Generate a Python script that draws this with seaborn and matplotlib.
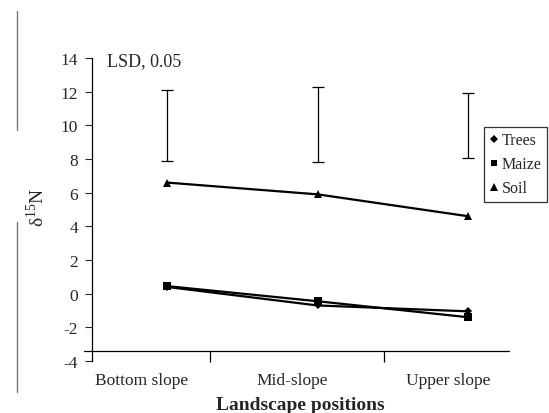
import numpy as np
import pandas as pd
import seaborn as sns
import matplotlib.pyplot as plt
from matplotlib.lines import Line2D

# values
positions = ["Bottom slope", "Mid-slope", "Upper slope"]
trees = [0.40, -0.70, -1.05]
maize = [0.45, -0.45, -1.40]
soil = [6.60, 5.90, 4.60]
lsd_low = [7.9, 7.85, 8.05]
lsd_high = [12.1, 12.25, 11.95]
y_ticks = [-4, -2, 0, 2, 4, 6, 8, 10, 12, 14]

sns.set_theme(style="white")
plt.rcParams['font.family'] = ['Liberation Serif', 'DejaVu Serif']
plt.rcParams['mathtext.fontset'] = 'custom'
plt.rcParams['mathtext.rm'] = 'Liberation Serif'
plt.rcParams['axes.unicode_minus'] = False

df = pd.DataFrame({
    'pos': list(range(3)) * 3,
    'value': trees + maize + soil,
    'Series': ['Trees'] * 3 + ['Maize'] * 3 + ['Soil'] * 3,
})

fig = plt.figure(figsize=(5.49, 4.14), dpi=100)
ax = fig.add_axes([0.1676, 0.1256, 0.7596, 0.7319])

markers = {'Trees': 'D', 'Maize': 's', 'Soil': '^'}
sizes = {'Trees': 4.5, 'Maize': 5.5, 'Soil': 6}
for name in ['Trees', 'Maize', 'Soil']:
    sns.lineplot(data=df[df['Series'] == name], x='pos', y='value', ax=ax,
                 color='black', lw=1.6, marker=markers[name],
                 markersize=sizes[name], markeredgewidth=0, legend=False)

# LSD bars
mid = (np.array(lsd_low) + np.array(lsd_high)) / 2
half = (np.array(lsd_high) - np.array(lsd_low)) / 2
ax.errorbar(range(3), mid, yerr=half, fmt='none', ecolor='black',
            elinewidth=0.9, capsize=4, capthick=0.9)
ax.text(0.036, 0.99, "LSD, 0.05", transform=ax.transAxes, fontsize=13,
        va='center', ha='left')

ax.set_xlim(-0.498, 2.272)
ax.set_ylim(-4, 14)
ax.set_yticks(y_ticks)
ax.tick_params(axis='y', direction='out', length=5, width=0.8, labelsize=12.5,
               left=True, pad=5)
ax.set_xticks([-0.17, 0.83, 1.87])
ax.set_xticklabels(positions, fontsize=12.5)
ax.tick_params(axis='x', length=0, pad=8)

for s in ['top', 'right', 'bottom']:
    ax.spines[s].set_visible(False)
ax.spines['left'].set_linewidth(0.9)
ax.spines['left'].set_color('black')

# horizontal axis line sits a little above the bottom of the y range
ax.plot([-0.55, 2.272], [-3.4, -3.4], color='black', lw=0.9, clip_on=False)
ax.vlines([0.286, 1.44], -4.05, -3.4, color='black', lw=0.9, clip_on=False)

ax.set_xlabel("Landscape positions", fontsize=14, fontweight='bold', labelpad=6)
ax.set_ylabel("δ$^{\\mathrm{15}}$N", fontsize=14)
ax.yaxis.set_label_coords(-0.105, 0.51)

handles = [Line2D([], [], color='black', marker=markers[n], ls='none',
                  markersize=sizes[n] - 0.5, markeredgewidth=0)
           for n in ['Trees', 'Maize', 'Soil']]
leg = ax.legend(handles, ['Trees', 'Maize', 'Soil'], loc='upper left',
                bbox_to_anchor=(0.941, 0.773), fontsize=11.5, frameon=True,
                fancybox=False, handlelength=0.5, handletextpad=0.25,
                borderpad=0.35, labelspacing=0.5, borderaxespad=0)
leg.get_frame().set_edgecolor('black')
leg.get_frame().set_linewidth(0.9)

# grey stray lines on the left edge of the original
fig.add_artist(Line2D([17 / 549, 17 / 549], [1 - 12 / 414, 1 - 131 / 414],
                      color='#777777', lw=1))
fig.add_artist(Line2D([17 / 549, 17 / 549], [1 - 223 / 414, 1 - 393 / 414],
                      color='#777777', lw=1))

fig.savefig("out.png", dpi=100)
